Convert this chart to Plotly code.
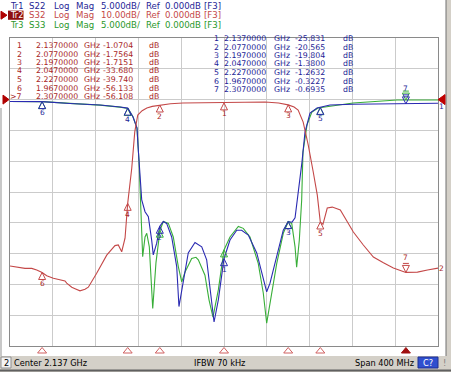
import plotly.graph_objects as go

# ---------------- data ----------------
s32_freq = [1.937, 1.9463, 1.951, 1.9573, 1.962, 1.967, 1.9713, 1.9775, 1.9837, 1.9884, 1.990, 1.9947, 1.9978,
            2.0024, 2.0071, 2.0102, 2.018, 2.0274, 2.0351, 2.0382, 2.0414, 2.0445, 2.047, 2.0508, 2.0536, 2.0564,
            2.0605, 2.0649, 2.070, 2.077, 2.087, 2.0986, 2.115, 2.137, 2.155, 2.1754, 2.188, 2.197, 2.2025, 2.2063,
            2.211, 2.2157, 2.2204, 2.2242, 2.227, 2.2295, 2.2335, 2.2382, 2.2457, 2.2504, 2.2579, 2.2672, 2.2766,
            2.286, 2.2953, 2.307, 2.3178, 2.3272, 2.337]
s32_db = [-54.0, -54.5, -54.8, -54.8, -55.3, -56.133, -57.2, -58.0, -58.6, -58.9, -59.6, -60.9, -61.4,
          -62.1, -61.6, -60.9, -56.4, -50.5, -47.4, -47.2, -49.4, -45.0, -33.68, -22.2, -10.5, -5.0,
          -3.6, -2.7, -2.2, -1.7564, -1.35, -1.1, -1.0, -1.0704, -0.95, -0.8, -1.1, -1.7151, -2.4, -3.4,
          -7.3, -14.7, -23.5, -31.0, -39.74, -40.5, -35.2, -34.9, -35.8, -38.4, -43.0, -47.2, -51.1,
          -53.0, -54.7, -56.108, -56.0, -55.3, -54.7]

s22_freq = [1.937, 1.967, 1.9931, 2.0211, 2.0398, 2.047, 2.052, 2.0557, 2.0566, 2.0585, 2.0601, 2.0632, 2.0663,
            2.0694, 2.0709, 2.0741, 2.077, 2.0803, 2.0834, 2.0881, 2.0928, 2.0949, 2.099, 2.1036, 2.1099, 2.1162,
            2.1208, 2.1255, 2.1277, 2.1317, 2.137, 2.1426, 2.1489, 2.1535, 2.1597, 2.1676, 2.1737, 2.1769, 2.18,
            2.1863, 2.1924, 2.197, 2.2006, 2.2034, 2.2064, 2.2099, 2.2127, 2.2174, 2.2239, 2.227, 2.2361, 2.2576,
            2.2987, 2.307, 2.337]
s22_db = [-0.30, -0.3227, -0.63, -0.88, -1.2, -1.38, -2.82, -4.61, -7.37, -11.75, -16.3, -18.2, -19.0,
          -22.8, -25.2, -23.3, -20.565, -19.8, -20.1, -22.3, -27.1, -33.6, -29.3, -24.9, -23.2, -23.9,
          -26.0, -32.5, -36.1, -32.5, -25.831, -22.8, -21.2, -21.2, -22.0, -24.9, -28.8, -31.2, -29.8,
          -25.5, -21.2, -19.804, -19.9, -19.2, -15.2, -10.1, -5.26, -2.18, -1.36, -1.2632, -0.88, -0.76,
          -0.66, -0.6935, -0.6]

s33_freq = [1.937, 1.967, 1.9931, 2.0211, 2.0398, 2.0473, 2.052, 2.0557, 2.0576, 2.0585, 2.061, 2.0632, 2.0648,
            2.0672, 2.0704, 2.0734, 2.0772, 2.0803, 2.085, 2.0896, 2.0943, 2.0975, 2.1006, 2.1068, 2.1108, 2.113,
            2.1192, 2.123, 2.1267, 2.1317, 2.137, 2.1426, 2.1504, 2.155, 2.1613, 2.169, 2.1737, 2.1769, 2.1806,
            2.1863, 2.1924, 2.1971, 2.2003, 2.2034, 2.2049, 2.2074, 2.2096, 2.2108, 2.2146, 2.2192, 2.2249,
            2.2379, 2.2501, 2.2576, 2.2987, 2.337]
s33_db = [-0.30, -0.33, -0.62, -0.9, -1.22, -1.45, -2.82, -4.61, -10.1, -15.2, -25.5, -22.3, -21.7,
          -23.9, -33.9, -26.5, -21.2, -19.8, -20.1, -22.3, -27.1, -29.6, -28.0, -25.8, -25.6, -26.0,
          -28.5, -32.5, -35.3, -30.9, -24.4, -22.3, -20.6, -20.9, -22.3, -26.6, -31.4, -36.3, -32.5,
          -26.6, -21.7, -19.8, -20.1, -23.9, -27.2, -22.8, -16.3, -8.5, -4.1, -2.0, -1.36,
          -1.04, -0.71, -0.55, -0.07, -0.07]

marker_ids = ["1", "2", "3", "4", "5", "6", "7"]
marker_freq = [2.137, 2.077, 2.197, 2.047, 2.227, 1.967, 2.307]
s32_marker_db = [-1.0704, -1.7564, -1.7151, -33.680, -39.740, -56.133, -56.108]
s22_marker_db = [-25.831, -20.565, -19.804, -1.3800, -1.2632, -0.3227, -0.6935]
s33_marker_db = [-24.4, -21.2, -19.8, -1.45, -1.32, -0.33, -0.08]
active_marker = "7"

header_traces = ["Tr1", "Tr2", "Tr3"]
header_texts = ["S22 Log Mag 5.000dB/ Ref 0.000dB [F3]",
                "S32 Log Mag 10.00dB/ Ref 0.000dB [F3]",
                "S33 Log Mag 5.000dB/ Ref 0.000dB [F3]"]
center_ghz = 2.137
span_mhz = 400
scale_5 = 5.0
scale_10 = 10.0
ref_db = 0.0
ref_pos_div = 8
n_div = 10

# ---------------- style ----------------
W, H = 451, 372
PL, PR, PT, PB = 10, 438, 38, 346
FONT = "DejaVu Sans"
RED = "#c44848"
RED_T = "#a82626"
BLUE = "#2a2ab2"
BLUE_T = "#1e1e96"
GREEN = "#38ae38"
GREEN_T = "#2a982a"
GRID = "#cbcbcb"
GRAY = "#d4d0c8"
TBL = 7.8
HDR = 8.6
HEAD_WORD_X = [27.5, 53, 75, 100, 145, 163.5, 202.5]


def px(xp):
    return (xp - PL) / (PR - PL)


def py(yp):
    return (PB - yp) / (PB - PT)


f_lo = center_ghz - span_mhz / 2000.0
f_hi = center_ghz + span_mhz / 2000.0

fig = go.Figure()
fig.add_trace(go.Scatter(x=s32_freq, y=s32_db, yaxis="y2", mode="lines",
                         line=dict(color=RED, width=1.1), hoverinfo="skip"))
fig.add_trace(go.Scatter(x=s33_freq, y=s33_db, mode="lines",
                         line=dict(color=GREEN, width=1.1), hoverinfo="skip"))
fig.add_trace(go.Scatter(x=s22_freq, y=s22_db, mode="lines",
                         line=dict(color=BLUE, width=1.1), hoverinfo="skip"))

shapes = []
ann = []


def txt(x, y, s, color="black", size=TBL, xanchor="left", xref="paper", yref="paper", yshift=0, xshift=0):
    ann.append(dict(x=x, y=y, xref=xref, yref=yref, text=s, showarrow=False, xanchor=xanchor,
                    yanchor="middle", font=dict(family=FONT, size=size, color=color),
                    yshift=yshift, xshift=xshift, borderpad=0))


# window chrome
shapes.append(dict(type="rect", xref="paper", yref="paper", x0=px(0), x1=px(W), y0=py(356), y1=py(372),
                   fillcolor=GRAY, line=dict(width=0), layer="below"))
shapes.append(dict(type="line", xref="paper", yref="paper", x0=px(0), x1=px(W), y0=py(370.5), y1=py(370.5),
                   line=dict(color="#606060", width=2)))
shapes.append(dict(type="rect", xref="paper", yref="paper", x0=px(446), x1=px(W), y0=py(0), y1=py(356),
                   fillcolor=GRAY, line=dict(width=0)))
shapes.append(dict(type="line", xref="paper", yref="paper", x0=px(446), x1=px(446), y0=py(0), y1=py(356),
                   line=dict(color="#707070", width=1)))
shapes.append(dict(type="rect", xref="paper", yref="paper", x0=px(0), x1=px(2), y0=py(108), y1=py(356),
                   fillcolor="#c8c8c8", line=dict(width=0)))
# status boxes
shapes.append(dict(type="rect", xref="paper", yref="paper", x0=px(1), x1=px(11), y0=py(357), y1=py(368),
                   fillcolor="#f4f4f4", line=dict(color="#909090", width=1)))
shapes.append(dict(type="rect", xref="paper", yref="paper", x0=px(418), x1=px(438), y0=py(357), y1=py(368),
                   fillcolor="#2f4fcf", line=dict(color="#203090", width=1)))
txt(px(6), py(362.5), "2", size=8.2, xanchor="center")
txt(px(13), py(362.5), "Center %.3f GHz" % center_ghz, size=8.2)
txt(px(219), py(362.5), "IFBW 70 kHz", size=8.2, xanchor="center")
txt(px(415), py(362.5), "Span %d MHz" % span_mhz, size=8.2, xanchor="right")
txt(px(428), py(362.5), "C?", size=8.2, xanchor="center", color="white")
txt(px(444), py(362.5), "!", size=8.2, xanchor="center", color="#808080")

# header
head_cols = [BLUE_T, RED, GREEN_T]
head_y = [5.8, 15.2, 24.6]
for i in range(3):
    if i == 1:
        shapes.append(dict(type="rect", xref="paper", yref="paper", x0=px(8), x1=px(23.5), y0=py(10.6),
                           y1=py(19.8), fillcolor="#8e1010", line=dict(width=0)))
        shapes.append(dict(type="path", xref="paper", yref="paper", xsizemode="pixel", ysizemode="pixel",
                           xanchor=px(7), yanchor=py(15.2), path="M0,0 L-6,4 L-6,-4 Z",
                           fillcolor="#b00000", line=dict(color="#b00000", width=1)))
        txt(px(9), py(head_y[i]), header_traces[i], color="white", size=8.2)
    else:
        txt(px(9), py(head_y[i]), header_traces[i], color=head_cols[i], size=8.2)
    for w, xw in zip(header_texts[i].split(" "), HEAD_WORD_X):
        txt(px(xw), py(head_y[i]), w, color=head_cols[i], size=HDR)


def fmt_db(v):
    return ("%.4f" % v) if abs(v) < 10 else ("%.3f" % v)


# marker tables
for k in range(7):
    yl = 45.5 + 8.5 * k
    lab = (">" if marker_ids[k] == active_marker else "") + marker_ids[k]
    txt(px(23), py(yl), lab, color=RED_T, xanchor="right")
    txt(px(35), py(yl), "%.7f" % marker_freq[k], color=RED_T)
    txt(px(83), py(yl), "GHz", color=RED_T)
    txt(px(102), py(yl), fmt_db(s32_marker_db[k]), color=RED_T)
    txt(px(148), py(yl), "dB", color=RED_T)
    yr = 38.5 + 8.5 * k
    txt(px(220), py(yr), marker_ids[k], color=BLUE_T, xanchor="right")
    txt(px(223), py(yr), "%.7f" % marker_freq[k], color=BLUE_T)
    txt(px(273), py(yr), "GHz", color=BLUE_T)
    txt(px(294), py(yr), fmt_db(s22_marker_db[k]), color=BLUE_T)
    txt(px(342), py(yr), "dB", color=BLUE_T)


# markers on traces
def draw_markers(vals, yref, color, tcolor, labels=True):
    for k in range(7):
        f, v = marker_freq[k], vals[k]
        if marker_ids[k] == active_marker:
            shapes.append(dict(type="path", xref="x", yref=yref, xsizemode="pixel", ysizemode="pixel",
                               xanchor=f, yanchor=v, path="M0,0 L-3.5,7 L3.5,7 Z",
                               line=dict(color=color, width=1)))
            shapes.append(dict(type="path", xref="x", yref=yref, xsizemode="pixel", ysizemode="pixel",
                               xanchor=f, yanchor=v, path="M-3,9 L3,9", line=dict(color=color, width=1)))
            if labels:
                txt(f, v, marker_ids[k], color=tcolor, size=7.5, xanchor="center", xref="x", yref=yref,
                    yshift=15)
        else:
            shapes.append(dict(type="path", xref="x", yref=yref, xsizemode="pixel", ysizemode="pixel",
                               xanchor=f, yanchor=v, path="M0,0 L-3.5,-7 L3.5,-7 Z",
                               line=dict(color=color, width=1)))
            if labels:
                txt(f, v, marker_ids[k], color=tcolor, size=7.5, xanchor="center", xref="x", yref=yref,
                    yshift=-11)


draw_markers(s32_marker_db, "y2", RED, RED_T)
draw_markers(s33_marker_db, "y", GREEN, GREEN_T, labels=False)
draw_markers(s22_marker_db, "y", BLUE, BLUE_T)

# stimulus markers below the graticule
for k in range(7):
    act = marker_ids[k] == active_marker
    shapes.append(dict(type="path", xref="x", yref="paper", xsizemode="pixel", ysizemode="pixel",
                       xanchor=marker_freq[k], yanchor=0, path="M0,-1.5 L-4.5,-7 L4.5,-7 Z",
                       fillcolor="#a01010" if act else "rgba(0,0,0,0)",
                       line=dict(color="#a01010" if act else "#d06060", width=1)))

# reference position arrows
shapes.append(dict(type="path", xref="paper", yref="y", xsizemode="pixel", ysizemode="pixel",
                   xanchor=px(9), yanchor=ref_db, path="M0,0 L-6,4.5 L-6,-4.5 Z",
                   fillcolor="#b00000", line=dict(color="#b00000", width=1)))
shapes.append(dict(type="path", xref="paper", yref="y", xsizemode="pixel", ysizemode="pixel",
                   xanchor=px(438), yanchor=ref_db, path="M0,0 L7,5 L7,-5 Z",
                   fillcolor="#c00000", line=dict(color="#c00000", width=1)))

# trace-end labels
txt(px(441), s22_db[-1], "1", color=BLUE_T, size=7.5, xanchor="center", yref="y", yshift=-3)
txt(px(441), s32_db[-1], "2", color=RED_T, size=7.5, xanchor="center", yref="y2")

y_lo = ref_db - ref_pos_div * scale_5
y_hi = y_lo + n_div * scale_5
y2_lo = ref_db - ref_pos_div * scale_10
y2_hi = y2_lo + n_div * scale_10

fig.update_layout(
    width=W, height=H, autosize=False,
    margin=dict(l=PL, r=W - PR, t=PT, b=H - PB, pad=0),
    paper_bgcolor="white", plot_bgcolor="white",
    showlegend=False,
    xaxis=dict(range=[f_lo, f_hi], tick0=f_lo, dtick=(f_hi - f_lo) / n_div, showticklabels=False,
               ticks="", showgrid=True, gridcolor=GRID, gridwidth=1, zeroline=False,
               showline=True, mirror=True, linecolor="#8a8a8a", linewidth=1, fixedrange=True),
    yaxis=dict(range=[y_lo, y_hi], tick0=y_lo, dtick=scale_5, showticklabels=False, ticks="",
               showgrid=True, gridcolor=GRID, gridwidth=1, zeroline=False,
               showline=True, mirror=True, linecolor="#8a8a8a", linewidth=1, fixedrange=True),
    yaxis2=dict(range=[y2_lo, y2_hi], overlaying="y", visible=False, showgrid=False, fixedrange=True),
    shapes=shapes,
    annotations=ann,
)

fig.write_html("out.html")
